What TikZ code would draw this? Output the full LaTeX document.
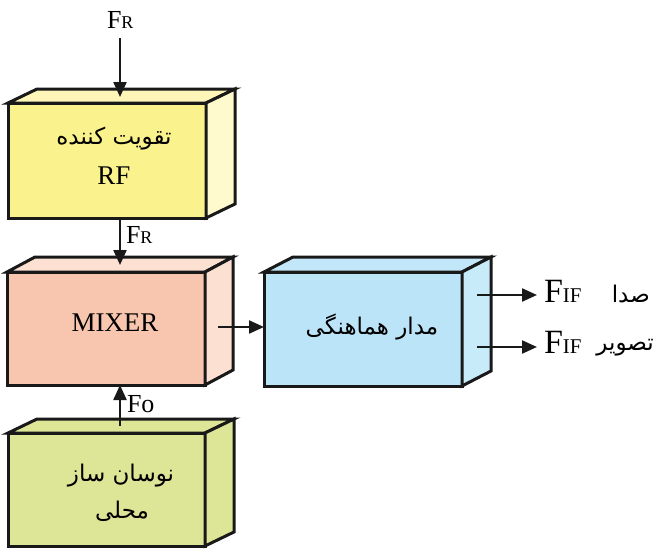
\documentclass[tikz,border=0pt]{standalone}
\usepackage{fontspec}
\setmainfont{Liberation Serif}
\newfontfamily\fa[Script=Arabic]{DejaVu Sans}
\TeXXeTstate=1
\usetikzlibrary{arrows.meta,calc}
\definecolor{yF}{RGB}{250,242,140}
\definecolor{yT}{RGB}{254,246,185}
\definecolor{yS}{RGB}{255,250,205}
\definecolor{mF}{RGB}{248,198,175}
\definecolor{mT}{RGB}{252,224,210}
\definecolor{mS}{RGB}{252,224,210}
\definecolor{gF}{RGB}{221,229,150}
\definecolor{gT}{RGB}{221,229,150}
\definecolor{gS}{RGB}{221,229,150}
\definecolor{bF}{RGB}{187,228,248}
\definecolor{bT}{RGB}{193,231,249}
\definecolor{bS}{RGB}{200,235,250}
\tikzset{
  face/.style={draw=black!90,line width=3pt},
  frontbox/.style={face,rectangle,inner sep=0pt,outer sep=0pt},
  arr/.style={line width=2.2pt,draw=black!90,-{Triangle[length=15pt,width=13pt]}},
  lbl/.style={inner sep=0pt,outer sep=0pt,anchor=base west,font=\fontsize{26}{30}\selectfont},
  faT/.style={inner sep=0pt,font=\fa\fontsize{23}{27}\selectfont},
  laT/.style={inner sep=0pt,font=\fontsize{27}{30}\selectfont}
}
\newcommand\cubefaces[5]{%
  \filldraw[face,fill=#4] (#1.north west) -- ++(#2,#3) -- ($(#1.north east)+(#2,#3)$) -- (#1.north east) -- cycle;
  \filldraw[face,fill=#5] (#1.north east) -- ++(#2,#3) -- ($(#1.south east)+(#2,#3)$) -- (#1.south east) -- cycle;}
\begin{document}
\begin{tikzpicture}[x=1pt,y=-1pt]
\useasboundingbox (0,0) rectangle (654,549);
\coordinate (ax) at (120,0);
% boxes
\node[frontbox,fill=yF,minimum width=198pt,minimum height=115pt] (rf) at (107,160.5) {};
\cubefaces{rf}{29}{-14}{yT}{yS}
\node[frontbox,fill=mF,minimum width=198pt,minimum height=113pt] (mixer) at (106,328.5) {};
\cubefaces{mixer}{28}{-15}{mT}{mS}
\node[frontbox,fill=gF,minimum width=197pt,minimum height=113pt] (osc) at (106.5,489.5) {};
\cubefaces{osc}{29}{-14}{gT}{gS}
\node[frontbox,fill=bF,minimum width=198pt,minimum height=114pt] (ifc) at (363,329) {};
\cubefaces{ifc}{29}{-15}{bT}{bS}
% box texts
\node[faT] (rft1) at (114,139) {\beginR تقویت کننده\endR};
\node[laT] (rft2) at (114,176) {RF};
\node[laT] (mixt) at (115,323) {MIXER};
\node[faT] (osct1) at (121,476) {\beginR نوسان ساز\endR};
\node[faT] (osct2) at (122,511) {\beginR محلی\endR};
\node[faT] (ift) at (372,327) {\beginR مدار هماهنگی\endR};
% labels
\node[lbl] (frtop) at (107,28) {F{\fontsize{18}{20}\selectfont R}};
\node[lbl] (frmid) at (126,243) {F{\fontsize{18}{20}\selectfont R}};
\node[lbl] (fo) at (127,412) {Fo};
\node[lbl,font=\fontsize{34}{38}\selectfont] (fif1) at (544,302) {F{\fontsize{21}{24}\selectfont IF}};
\node[lbl,font=\fontsize{34}{38}\selectfont] (fif2) at (544,353) {F{\fontsize{21}{24}\selectfont IF}};
\node[inner sep=0pt,anchor=base east,font=\fa\fontsize{23}{27}\selectfont] (sada) at (650,302) {\beginR صدا\endR};
\node[inner sep=0pt,anchor=base east,font=\fa\fontsize{23}{27}\selectfont] (tasvir) at (654,350) {\beginR تصویر\endR};
% connectors
\coordinate (a1s) at (120,38);
\draw[arr] (a1s) -- ($(rf.north -| ax)+(0,-6)$);
\draw[arr] (rf.south -| ax) -- ($(mixer.north -| ax)+(0,-7)$);
\draw[arr] ($(osc.north -| ax)+(0,-7)$) -- (mixer.south -| ax);
\coordinate (m4) at (218,327);
\draw[arr] (m4) -- (m4 -| ifc.west);
\coordinate (o1) at (477,295);
\coordinate (o2) at (477,347);
\draw[arr,shorten >=7pt] (o1) -- (o1 -| fif1.west);
\draw[arr,shorten >=7pt] (o2) -- (o2 -| fif2.west);
\end{tikzpicture}
\end{document}
